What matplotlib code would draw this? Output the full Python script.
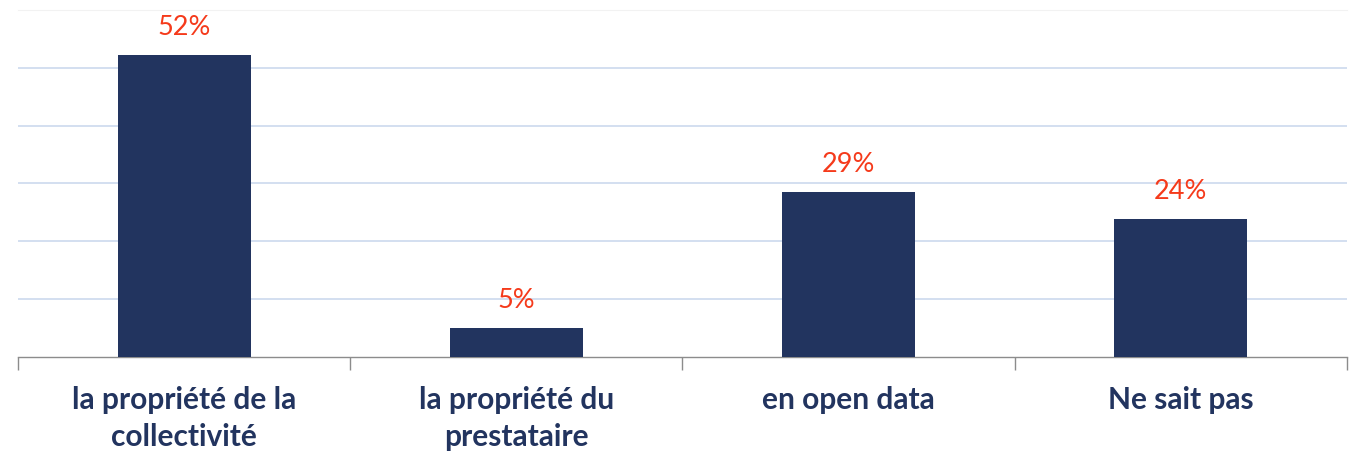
import numpy as np
import matplotlib.pyplot as plt

# Data
categories = ["la propriété de la\ncollectivité", "la propriété du\nprestataire",
              "en open data", "Ne sait pas"]
values = [0.522, 0.05, 0.285, 0.238]
labels = ["52%", "5%", "29%", "24%"]

navy = "#22345f"
red = "#f53a1b"

fig = plt.figure(figsize=(13.52, 4.52), dpi=100)
ax = fig.add_axes([0.0133, 0.208, 0.983, 0.768])

x = np.arange(len(categories))
bars = ax.bar(x, values, width=0.4, color=navy, zorder=3)

# data labels above bars
for b, txt in zip(bars, labels):
    ax.annotate(txt, (b.get_x() + b.get_width() / 2, b.get_height()),
                xytext=(0, 15), textcoords="offset points",
                ha="center", va="baseline", fontsize=19.5,
                color=red, family="Lato")

ax.set_xlim(-0.5, len(categories) - 0.5)
ax.set_ylim(0, 0.6)

# horizontal grid
ax.set_yticks([0.1, 0.2, 0.3, 0.4, 0.5])
ax.yaxis.grid(True, color="#d0dcef", linewidth=1.3, zorder=0)
ax.tick_params(axis="y", left=False, labelleft=False)

# category ticks at boundaries, labels at centers
ax.set_xticks(x)
ax.set_xticklabels(categories, fontsize=21.5, fontweight="bold",
                   color=navy, family="Lato", linespacing=1.42)
ax.tick_params(axis="x", length=0, pad=20)
ax.set_xticks(np.arange(-0.5, len(categories)), minor=True)
ax.tick_params(axis="x", which="minor", length=9, color="#8c8c8c", width=1)

for s in ["left", "right"]:
    ax.spines[s].set_visible(False)
ax.spines["top"].set_color("#f2f2f2")
ax.spines["bottom"].set_color("#8c8c8c")
ax.spines["bottom"].set_linewidth(1)

fig.savefig("out.png", dpi=100)
